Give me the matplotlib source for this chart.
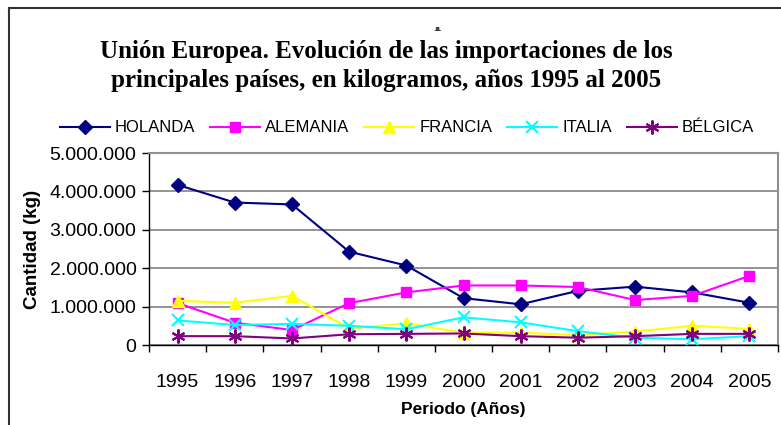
import matplotlib.pyplot as plt
from matplotlib.lines import Line2D

plt.rcParams["font.family"] = ["Liberation Sans", "DejaVu Sans"]

years = ["1995", "1996", "1997", "1998", "1999", "2000", "2001", "2002", "2003", "2004", "2005"]
holanda = [4170000, 3710000, 3660000, 2430000, 2070000, 1220000, 1060000, 1410000, 1520000, 1370000, 1100000]
alemania = [1090000, 580000, 390000, 1090000, 1370000, 1550000, 1550000, 1510000, 1170000, 1280000, 1800000]
francia = [1150000, 1100000, 1280000, 430000, 560000, 320000, 320000, 260000, 350000, 500000, 420000]
italia = [640000, 520000, 550000, 500000, 410000, 720000, 590000, 360000, 190000, 150000, 230000]
belgica = [230000, 230000, 170000, 280000, 290000, 300000, 230000, 190000, 230000, 290000, 290000]

series = [
    ("HOLANDA", holanda, "#000080", "D", 7),
    ("ALEMANIA", alemania, "#FF00FF", "s", 7),
    ("FRANCIA", francia, "#FFFF00", "^", 8.5),
    ("ITALIA", italia, "#00FFFF", "x", 8.5),
    ("BÉLGICA", belgica, "#800080", (6, 2, 0), 10),
]

fig = plt.figure(figsize=(7.81, 4.25), dpi=100)
ax = fig.add_axes([149 / 781, 1 - 345 / 425, 629 / 781, 192 / 425])

x = list(range(len(years)))
handles = []
for name, vals, col, mk, ms in series:
    mew = 1.5 if mk == "x" or isinstance(mk, tuple) else 1
    ax.plot(x, vals, color=col, marker=mk, markersize=ms, lw=1.5,
            markeredgewidth=mew, markerfacecolor=col, markeredgecolor=col,
            clip_on=False, zorder=3)
    handles.append(Line2D([], [], color=col, marker=mk, markersize=ms, lw=1.5,
                          markeredgewidth=mew, markerfacecolor=col,
                          markeredgecolor=col, label=name))

ax.set_xlim(-0.5, len(years) - 0.5)
ax.set_ylim(0, 5000000)
yt = [0, 1000000, 2000000, 3000000, 4000000, 5000000]
ax.set_yticks(yt)
ax.set_yticklabels(["0", "1.000.000", "2.000.000", "3.000.000", "4.000.000", "5.000.000"])
ax.set_xticks(x)
ax.set_xticklabels(years)
ax.set_xticks([i + 0.5 for i in range(-1, len(years))], minor=True)
ax.tick_params(axis="x", which="major", length=0, pad=21, labelsize=14)
ax.tick_params(axis="x", which="minor", length=5, width=1, color="black", direction="out")
ax.tick_params(axis="y", length=5, width=1, color="black", direction="out", labelsize=14, pad=4)
ax.grid(axis="y", color="#808080", lw=1.2)
ax.set_axisbelow(True)
for s in ("top", "right"):
    ax.spines[s].set_color("#909090")
    ax.spines[s].set_linewidth(1.5)
for s in ("left", "bottom"):
    ax.spines[s].set_color("black")
    ax.spines[s].set_linewidth(1)

ax.set_ylabel("Cantidad (kg)", fontsize=13.5, fontweight="bold", labelpad=6)
ax.set_xlabel("Periodo (Años)", fontsize=12.5, fontweight="bold", labelpad=8)

fig.legend(handles=handles, loc="center", bbox_to_anchor=(407 / 781, 1 - 128 / 425),
           ncol=5, frameon=False, fontsize=12, handlelength=3.0,
           columnspacing=0.9, handletextpad=0.3)

# title line hidden behind the chart area, only its bottom edge shows
fig.text(392 / 781, 1 - 26 / 425, "Comunidad Económica Europea. Evolución de las",
         ha="center", va="baseline", fontsize=17.5, fontweight="bold",
         family="Liberation Serif", color="#444444", zorder=1)
cover = fig.add_axes([10 / 781, 1 - 27 / 425, 1, 18 / 425], zorder=10)
cover.set_facecolor("white")
cover.set_xticks([])
cover.set_yticks([])
for s in cover.spines.values():
    s.set_visible(False)

# outer frame lines
fig.add_artist(Line2D([9 / 781, 9 / 781], [0, 1 - 8 / 425], color="#333333", lw=1.5,
                      transform=fig.transFigure, zorder=20))
fig.add_artist(Line2D([9 / 781, 1], [1 - 8 / 425, 1 - 8 / 425], color="#333333", lw=1.5,
                      transform=fig.transFigure, zorder=20))

fig.text(386 / 781, 1 - 66 / 425,
         "Unión Europea. Evolución de las importaciones de los\n"
         "principales países, en kilogramos, años 1995 al 2005",
         ha="center", va="center", fontsize=18, fontweight="bold",
         family="Liberation Serif", linespacing=1.3, zorder=20)

fig.savefig("out.png", dpi=100)
